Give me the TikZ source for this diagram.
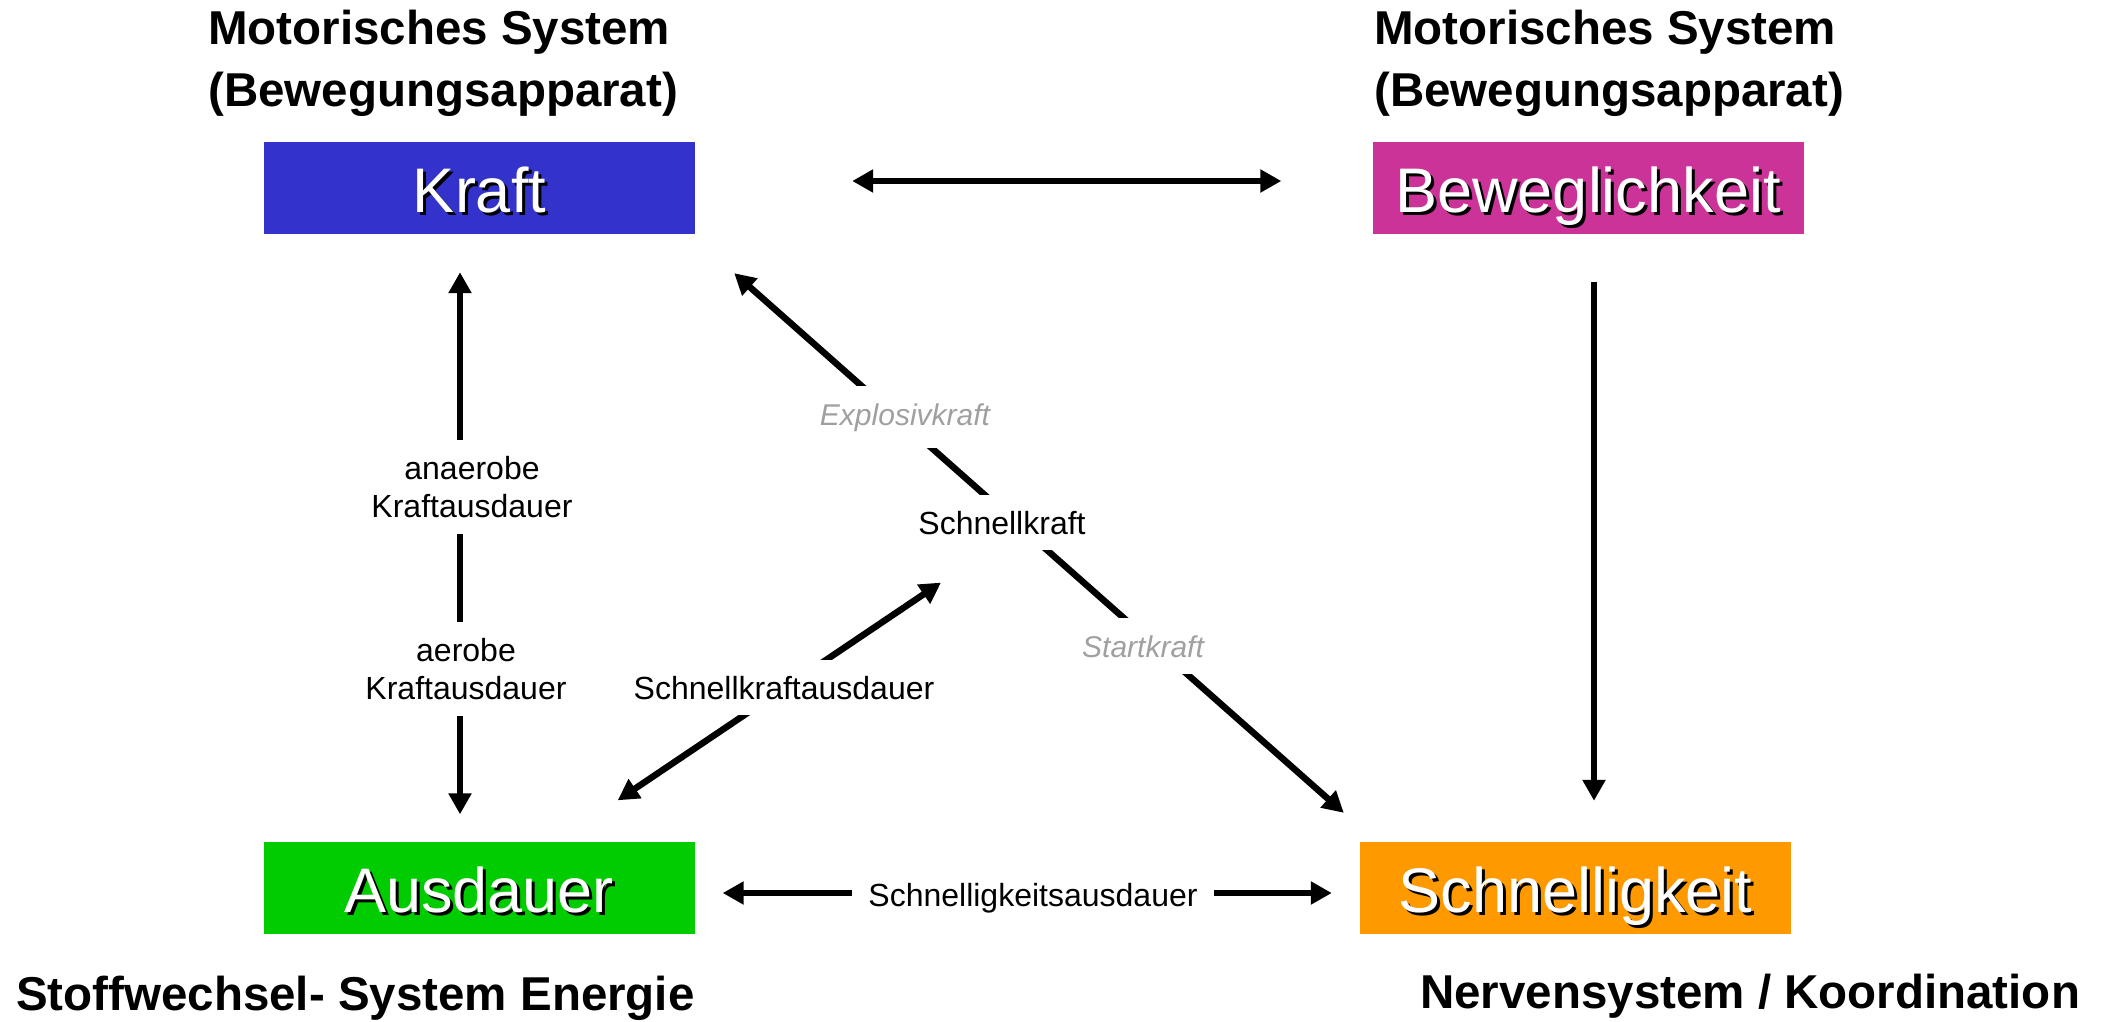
\documentclass[tikz,border=0pt]{standalone}
\usepackage{fontspec}
\setmainfont{Liberation Sans}
\usetikzlibrary{arrows.meta,calc,backgrounds}
\definecolor{kraftc}{RGB}{51,51,204}
\definecolor{bewc}{RGB}{204,51,153}
\definecolor{ausc}{RGB}{0,204,0}
\definecolor{schc}{RGB}{255,153,0}
\definecolor{labgray}{RGB}{160,160,160}
\newcommand{\shadowed}[1]{\rlap{\kern3pt\raisebox{-3pt}{\color{black}#1}}#1}
\begin{document}
\begin{tikzpicture}[x=1pt,y=-1pt,
  box/.style={rectangle, inner sep=0pt, minimum width=431pt, minimum height=92pt,
    text height=56pt, text depth=7pt, text=white, font=\fontsize{63}{63}\selectfont},
  head/.style={font=\bfseries\fontsize{47.5}{61.5}\selectfont, align=left, inner sep=0pt},
  conn/.style={line width=6.5pt, -{Triangle[length=21pt,width=22pt]}},
  bidir/.style={line width=6.5pt, {Triangle[length=21pt,width=22pt]}-{Triangle[length=21pt,width=22pt]}},
  lab/.style={fill=white, inner sep=16pt, font=\fontsize{32}{38.5}\selectfont, align=center},
  glab/.style={lab, text=labgray, inner sep=17pt, font=\itshape\fontsize{30}{36}\selectfont}
]
\useasboundingbox (0,0) rectangle (2108,1021);

% headers
\node[head, anchor=north west] (hl) at (208,10) {Motorisches System\\(Bewegungsapparat)};
\node[head, anchor=north west] (hr) at (1374,10) {Motorisches System\\(Bewegungsapparat)};
\node[head, anchor=base west] (fl) at (16,1010) {Stoffwechsel- System Energie};
\node[head, anchor=base west] (fr) at (1420,1008) {Nervensystem / Koordination};

% boxes
\node[box, fill=kraftc] (kraft) at (479.5,188) {\shadowed{Kraft}};
\node[box, fill=bewc] (bew) at (1588,187.5) {\shadowed{Beweglichkeit}};
\node[box, fill=ausc] (aus) at (479,887.5) {\shadowed{Ausdauer}};
\node[box, fill=schc] (schn) at (1575.5,888) {\shadowed{Schnelligkeit}};

% labels
\node[lab] (anaer) at (472,487) {anaerobe\\Kraftausdauer};
\node[lab] (aer) at (466,669) {aerobe\\Kraftausdauer};
\node[lab, anchor=base] (skraft) at (1002,534) {Schnellkraft};
\node[glab, anchor=base] (expl) at (905,425) {Explosivkraft};
\node[glab, anchor=base] (start) at (1143,657) {Startkraft};
\node[lab, anchor=base] (ska) at (784,699) {Schnellkraftausdauer};
\node[lab, anchor=base] (sga) at (1033,906) {Schnelligkeitsausdauer};

% connectors
\begin{pgfonlayer}{background}
\draw[bidir] ($(kraft.east)+(157,-7)$) -- ($(bew.west)+(-91,-6.5)$);
\draw[conn] ($(bew.south)+(6,48)$) -- ($(schn.north)+(18.5,-41)$);
\draw[bidir] ($(kraft.south)+(-19.5,38)$) -- ($(aus.north)+(-19,-27)$);
\draw[bidir] ($(kraft.south east)+(39,39)$) -- ($(schn.north west)+(-16,-29)$);
\draw[bidir] ($(aus.north east)+(-77,-41)$) -- ($(skraft.center)+(-61,60)$);
\draw[bidir] ($(aus.east)+(28,5.5)$) -- ($(schn.west)+(-28,5)$);
\end{pgfonlayer}
\end{tikzpicture}
\end{document}
